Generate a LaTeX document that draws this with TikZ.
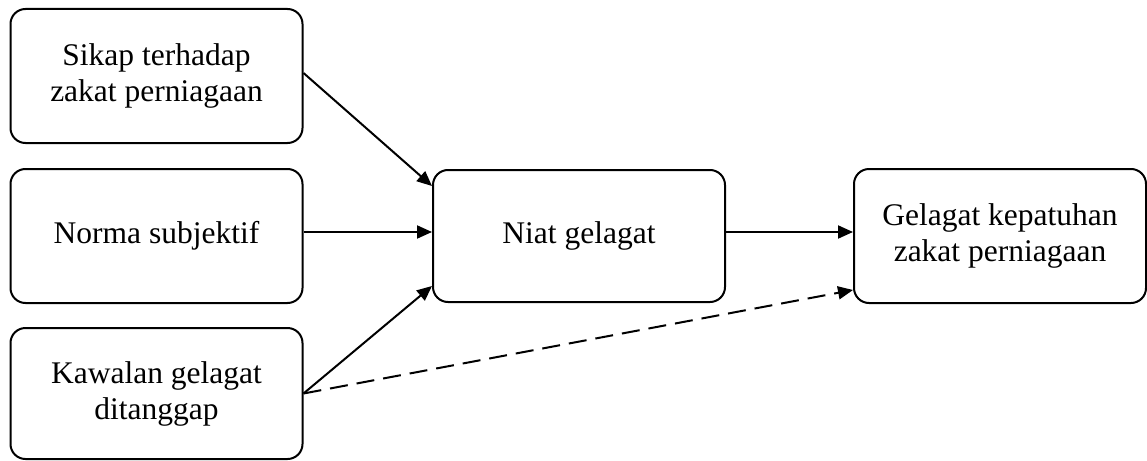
\documentclass[tikz,border=0pt]{standalone}
\usepackage{fontspec}
\setmainfont{Liberation Serif}
\usetikzlibrary{arrows.meta}
\begin{document}
\begin{tikzpicture}[x=1pt,y=-1pt,
  box/.style={draw,line width=2pt,rounded corners=15pt,align=center,
    minimum width=292pt,inner sep=0pt,
    font=\fontsize{31.5}{36}\selectfont},
  link/.style={line width=2pt,-{Triangle[length=15pt,width=13pt]}},
  dashlink/.style={link,dash pattern=on 18pt off 9pt}]
\useasboundingbox (0,0) rectangle (1147,460);
\node[box,minimum height=134pt] (sikap) at (156.5,76) {Sikap terhadap\\zakat perniagaan};
\node[box,minimum height=134pt] (norma) at (156.5,236) {Norma subjektif};
\node[box,minimum height=131pt] (kawalan) at (156.5,393.5) {Kawalan gelagat\\ditanggap};
\node[box,minimum height=132pt] (niat) at (579,236) {Niat gelagat};
\node[box,minimum height=134pt] (patuh) at (1000,236) {Gelagat kepatuhan\\zakat perniagaan};
\draw[link] ([yshift=3pt]sikap.east) -- ([yshift=50pt]niat.west);
\draw[link] ([yshift=4pt]norma.east) -- ([yshift=4pt]niat.west);
\draw[link] (kawalan.east) -- ([yshift=-50pt]niat.west);
\draw[link] ([yshift=4pt]niat.east) -- ([yshift=4pt]patuh.west);
\draw[dashlink] (kawalan.east) -- ([yshift=-54pt]patuh.west);
\end{tikzpicture}
\end{document}
